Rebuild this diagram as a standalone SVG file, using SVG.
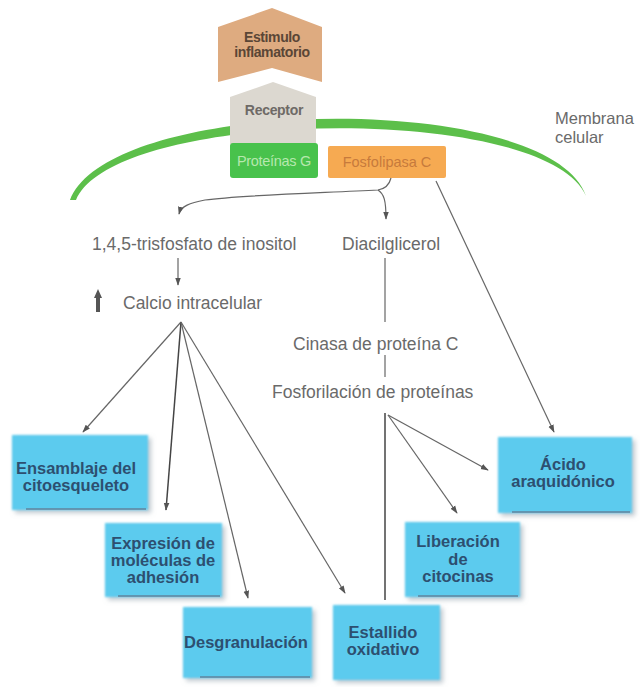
<svg xmlns="http://www.w3.org/2000/svg" width="640" height="687" viewBox="0 0 640 687">
  <style>
    .lbl { font-family: "Liberation Sans", Arial, sans-serif; font-size: 17.5px; fill: #6a6a6a; }
    .box { fill: #5ccbee; }
    .boxline { fill: #5d7f99; opacity: 0.7; }
    .boxtxt { font-family: "Liberation Sans", Arial, sans-serif; font-size: 16.5px; font-weight: bold; fill: #2d4f70; text-anchor: middle; }
    .conn { fill: none; stroke: #666; stroke-width: 1.2; }
    .dark { stroke: #444; stroke-width: 1.5; }
    .small { font-family: "Liberation Sans", Arial, sans-serif; font-size: 14px; font-weight: bold; text-anchor: middle; }
  </style>
  <defs>
    <marker id="arr" viewBox="0 0 10 10" refX="9" refY="5" markerWidth="8" markerHeight="8" orient="auto-start-reverse" markerUnits="userSpaceOnUse">
      <path d="M0,1.5 L10,5 L0,8.5 z" fill="#555"/>
    </marker>
    <filter id="soft" x="-10%" y="-10%" width="125%" height="130%">
      <feGaussianBlur in="SourceAlpha" stdDeviation="2.5"/>
      <feOffset dx="3" dy="3" result="b"/>
      <feFlood flood-color="#8a9aa6" flood-opacity="0.55"/>
      <feComposite in2="b" operator="in" result="s"/>
      <feGaussianBlur in="SourceGraphic" stdDeviation="0.8" result="g"/>
      <feMerge><feMergeNode in="s"/><feMergeNode in="g"/></feMerge>
    </filter>
  </defs>

  <rect width="640" height="687" fill="#fff"/>

  <!-- cell membrane -->
  <g id="membrana">
    <path d="M70 200 C110 95, 550 90, 586 196 C545 102, 115 108, 76 200 Z" fill="#5cbf4a"/>
    <text class="lbl" x="555" y="124" style="font-size:16.5px">Membrana</text>
    <text class="lbl" x="555" y="143" style="font-size:16.5px">celular</text>
  </g>

  <g id="estimulo">
    <path d="M218 27 L272 8 L322 27 L322 82 L272 68 L218 82 Z" fill="#deab80"/>
    <text class="small" x="272" y="42" fill="#5a4636" letter-spacing="-0.4">Estimulo</text>
    <text class="small" x="272" y="57" fill="#5a4636" letter-spacing="-0.4">inflamatorio</text>
  </g>

  <g id="receptor">
    <path d="M230 97 L273 82 L316 97 L316 144 L230 144 Z" fill="#dcd8d0"/>
    <text class="small" x="274" y="115" fill="#6e6a66" letter-spacing="-0.3">Receptor</text>
  </g>

  <g id="proteina-g">
    <rect x="230" y="143" width="88" height="35" rx="3" fill="#48c24c"/>
    <text class="small" x="274" y="166" fill="#b6e8ae" style="font-weight:normal;font-size:14.5px" letter-spacing="-0.3">Proteínas G</text>
  </g>

  <g id="fosfolipasa-c">
    <rect x="328" y="146" width="118" height="32" rx="2" fill="#f6aa52"/>
    <text class="small" x="387" y="167" fill="#c77a3c" style="font-weight:normal;font-size:14.5px">Fosfolipasa C</text>
  </g>

  <g id="ip3"><text class="lbl" x="92" y="250">1,4,5-trisfosfato de inositol</text></g>
  <g id="dag"><text class="lbl" x="342" y="250">Diacilglicerol</text></g>
  <g id="calcio">
    <path d="M94 298 L98 289 L102 298 L100 298 L100 312 L96 312 L96 298 Z" fill="#555"/>
    <text class="lbl" x="123" y="309">Calcio intracelular</text>
  </g>
  <g id="pkc"><text class="lbl" x="293" y="350">Cinasa de proteína C</text></g>
  <g id="fosforilacion"><text class="lbl" x="272" y="398">Fosforilación de proteínas</text></g>

  <!-- connectors -->
  <g id="connectors">
    <path class="conn" d="M391 178 C389 186, 384 189, 378 190 C320 193, 240 195, 205 200 C190 203, 181 206, 179 214" marker-end="url(#arr)"/>
    <path class="conn" d="M378 190 C384 194, 386 200, 386 219" marker-end="url(#arr)"/>
    <path class="conn" d="M178 258 L178 285" marker-end="url(#arr)"/>
    <path class="conn" d="M385 258 L385 322"/>
    <path class="conn" d="M385 355 L385 377" stroke="#aaa"/>
    <path class="conn" d="M436 181 L554 432" marker-end="url(#arr)"/>
    <path class="conn" d="M181 322 L83 432" marker-end="url(#arr)"/>
    <path class="conn dark" d="M181 322 L166 510" marker-end="url(#arr)"/>
    <path class="conn" d="M181 322 L248 598" marker-end="url(#arr)"/>
    <path class="conn" d="M181 322 L345 593" marker-end="url(#arr)"/>
    <path class="conn dark" d="M385 413 L385 600"/>
    <path class="conn" d="M388 415 L488 470" marker-end="url(#arr)"/>
    <path class="conn" d="M388 415 L457 513" marker-end="url(#arr)"/>
  </g>

  <g id="ensamblaje">
    <rect class="box" x="12" y="435" width="136" height="75" filter="url(#soft)"/>
    <rect class="boxline" x="26" y="508" width="120" height="2"/>
    <text class="boxtxt" x="76" y="474">Ensamblaje del</text>
    <text class="boxtxt" x="76" y="491">citoesqueleto</text>
  </g>
  <g id="expresion">
    <rect class="box" x="105" y="523" width="117" height="74" filter="url(#soft)"/>
    <rect class="boxline" x="118" y="595" width="102" height="2"/>
    <text class="boxtxt" x="163" y="549">Expresión de</text>
    <text class="boxtxt" x="163" y="566">moléculas de</text>
    <text class="boxtxt" x="163" y="583">adhesión</text>
  </g>
  <g id="desgranulacion">
    <rect class="box" x="183" y="607" width="129" height="71" filter="url(#soft)"/>
    <rect class="boxline" x="200" y="676" width="110" height="2"/>
    <text class="boxtxt" x="246" y="648">Desgranulación</text>
  </g>
  <g id="estallido">
    <rect class="box" x="333" y="605" width="107" height="75" filter="url(#soft)"/>
    <text class="boxtxt" x="383" y="638">Estallido</text>
    <text class="boxtxt" x="383" y="655">oxidativo</text>
  </g>
  <g id="liberacion">
    <rect class="box" x="405" y="522" width="115" height="75" filter="url(#soft)"/>
    <rect class="boxline" x="418" y="595" width="100" height="2"/>
    <text class="boxtxt" x="458" y="547">Liberación</text>
    <text class="boxtxt" x="458" y="565">de</text>
    <text class="boxtxt" x="458" y="582">citocinas</text>
  </g>
  <g id="acido">
    <rect class="box" x="498" y="437" width="134" height="76" filter="url(#soft)"/>
    <rect class="boxline" x="512" y="511" width="118" height="2"/>
    <text class="boxtxt" x="563" y="470">Ácido</text>
    <text class="boxtxt" x="563" y="487">araquidónico</text>
  </g>
</svg>
